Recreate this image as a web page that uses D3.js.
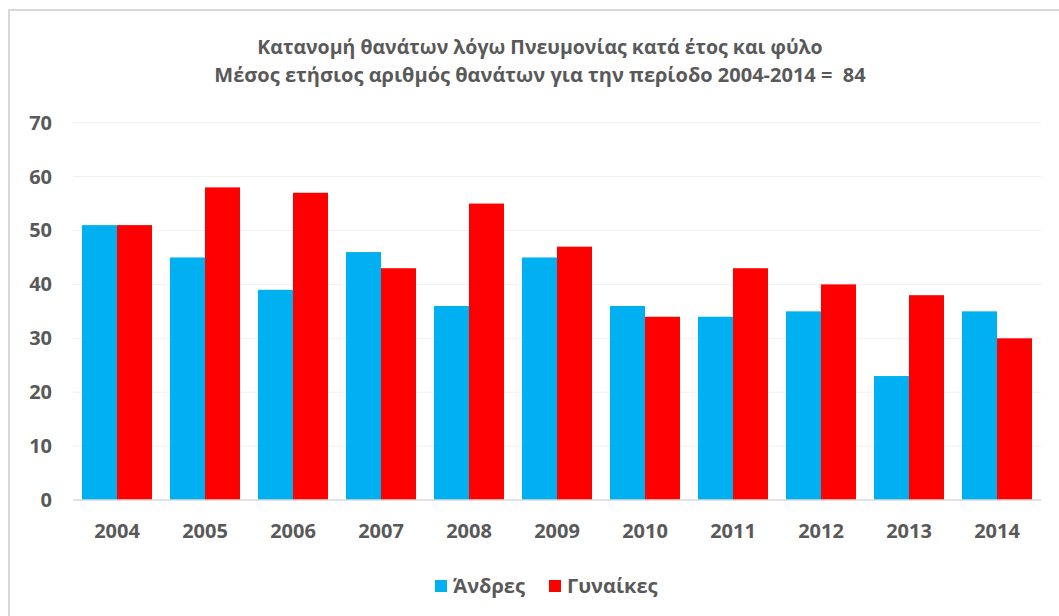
<!DOCTYPE html>
<html>
<head>
<meta charset="utf-8">
<script src="https://cdn.jsdelivr.net/npm/d3@7"></script>
<style>
  html, body { margin: 0; padding: 0; background: #fff; }
  svg { display: block; }
  text { font-family: "Open Sans", "Noto Sans", sans-serif; fill: #595959; }
</style>
</head>
<body>
<svg id="chart" width="1059" height="616"></svg>
<script>
// Pneumonia deaths per year, by sex
const years = ["2004", "2005", "2006", "2007", "2008", "2009", "2010", "2011", "2012", "2013", "2014"];
const men   = [51, 45, 39, 46, 36, 45, 36, 34, 35, 23, 35];
const women = [51, 58, 57, 43, 55, 47, 34, 43, 40, 38, 30];
const seriesNames = ["Άνδρες", "Γυναίκες"];
const seriesColors = ["#00b0f0", "#ff0000"];
const yTicks = [0, 10, 20, 30, 40, 50, 60, 70];
const titleLines = [
  "Κατανομή θανάτων λόγω Πνευμονίας κατά έτος και φύλο",
  "Μέσος ετήσιος αριθμός θανάτων για την περίοδο 2004-2014 =  84"
];

const svg = d3.select("#chart");
const W = 1059, H = 616;
const plot = { left: 73, right: 1041, top: 122.7, bottom: 500 };

// chart frame
svg.append("rect")
  .attr("x", 9).attr("y", 10)
  .attr("width", W + 20).attr("height", H + 20)
  .attr("fill", "none").attr("stroke", "#d9d9d9").attr("stroke-width", 2);

const x = d3.scaleBand().domain(years).range([plot.left, plot.right]).paddingInner(18 / 88).paddingOuter(9 / 88);
const xs = d3.scaleBand().domain(seriesNames).range([0, x.bandwidth()]);
const y = d3.scaleLinear().domain([0, 70]).range([plot.bottom, plot.top]);

// gridlines
svg.append("g").selectAll("line").data(yTicks.filter(d => d > 0)).join("line")
  .attr("x1", plot.left).attr("x2", plot.right)
  .attr("y1", d => y(d)).attr("y2", d => y(d))
  .attr("stroke", "#f0f0f0").attr("stroke-width", 1);

// bars
const rows = years.map((yr, i) => ({ yr, vals: [men[i], women[i]] }));
const groups = svg.append("g").selectAll("g").data(rows).join("g")
  .attr("transform", d => `translate(${x(d.yr)},0)`);
groups.selectAll("rect").data(d => d.vals.map((v, k) => ({ v, k }))).join("rect")
  .attr("x", d => xs(seriesNames[d.k]))
  .attr("width", xs.bandwidth())
  .attr("y", d => y(d.v))
  .attr("height", d => y(0) - y(d.v))
  .attr("fill", d => seriesColors[d.k]);

// baseline
svg.append("line")
  .attr("x1", plot.left).attr("x2", plot.right)
  .attr("y1", y(0)).attr("y2", y(0))
  .attr("stroke", "#d9d9d9").attr("stroke-width", 1.5);

const labelStyle = sel => sel
  .style("font-family", "'Open Sans', sans-serif")
  .style("font-size", "20px").style("font-weight", "bold")
  .attr("fill", "#595959");

// y axis labels
const yAxis = d3.axisLeft(y).tickValues(yTicks).tickSize(0).tickPadding(0);
const gy = svg.append("g").attr("transform", "translate(52,0)").call(yAxis);
gy.select(".domain").remove();
gy.selectAll("text").call(labelStyle);

// x axis labels
const xAxis = d3.axisBottom(x).tickSize(0).tickPadding(0);
const gx = svg.append("g").attr("transform", "translate(0,524)").call(xAxis);
gx.select(".domain").remove();
gx.selectAll("text").call(labelStyle);

// title
svg.append("g").selectAll("text").data(titleLines).join("text")
  .attr("x", 540).attr("y", (d, i) => 53.5 + i * 28.5)
  .attr("text-anchor", "middle")
  .attr("xml:space", "preserve")
  .style("white-space", "pre")
  .style("font-size", (d, i) => i === 0 ? "19.5px" : "20px")
  .style("font-weight", "bold")
  .text(d => d);

// legend
const legendItems = [
  { name: seriesNames[0], color: seriesColors[0], x: 435 },
  { name: seriesNames[1], color: seriesColors[1], x: 549 }
];
const lg = svg.append("g").selectAll("g").data(legendItems).join("g")
  .attr("transform", d => `translate(${d.x},580)`);
lg.append("rect").attr("width", 12).attr("height", 12).attr("fill", d => d.color);
lg.append("text").attr("x", 18).attr("y", 13)
  .style("font-size", "20px").style("font-weight", "bold")
  .text(d => d.name);
</script>
</body>
</html>
